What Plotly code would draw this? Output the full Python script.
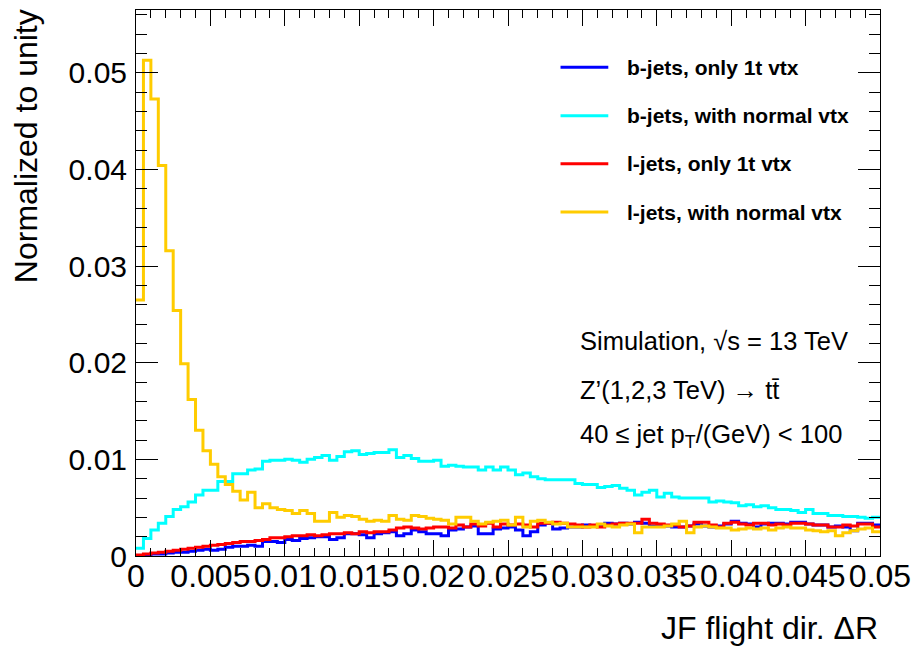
import numpy as np
import plotly.graph_objects as go

# ---- data (normalized histograms, 100 bins over 0..0.05) ----
x_min, x_max, n_bins = 0.0, 0.05, 100

b_1t = [0.00005, 0.0001, 0.0002, 0.0002, 0.0003, 0.0004, 0.0004, 0.0005, 0.0006, 0.0007,
        0.0006, 0.0007, 0.0009, 0.0010, 0.0010, 0.0011, 0.0010, 0.0015, 0.0015, 0.0014,
        0.0017, 0.0016, 0.0018, 0.0019, 0.0020, 0.0020, 0.0017, 0.0019, 0.0023, 0.0023,
        0.0022, 0.0019, 0.0023, 0.0024, 0.0025, 0.0021, 0.0023, 0.0027, 0.0025, 0.0023,
        0.0023, 0.0021, 0.0027, 0.0028, 0.0030, 0.0031, 0.0023, 0.0023, 0.0028, 0.0029,
        0.0030, 0.0027, 0.0021, 0.0025, 0.0032, 0.0034, 0.0028, 0.0029, 0.0030, 0.0030,
        0.0032, 0.0031, 0.0032, 0.0034, 0.0033, 0.0034, 0.0033, 0.0035, 0.0034, 0.0031,
        0.0031, 0.0031, 0.0030, 0.0030, 0.0031, 0.0033, 0.0031, 0.0030, 0.0031, 0.0033,
        0.0036, 0.0034, 0.0033, 0.0030, 0.0033, 0.0034, 0.0034, 0.0033, 0.0035, 0.0035,
        0.0033, 0.0032, 0.0032, 0.0030, 0.0031, 0.0030, 0.0026, 0.0034, 0.0034, 0.0032]

b_norm = [0.0008, 0.0018, 0.0027, 0.0034, 0.0041, 0.0048, 0.0051, 0.0056, 0.0063, 0.0068,
          0.0068, 0.0077, 0.0077, 0.0085, 0.0085, 0.0089, 0.0090, 0.0098, 0.0099, 0.0099,
          0.0100, 0.0099, 0.0097, 0.0100, 0.0102, 0.0104, 0.0099, 0.0103, 0.0108, 0.0109,
          0.0105, 0.0106, 0.0107, 0.0107, 0.0110, 0.0102, 0.0104, 0.0101, 0.0098, 0.0098,
          0.0099, 0.0093, 0.0094, 0.0093, 0.0092, 0.0092, 0.0089, 0.0092, 0.0089, 0.0092,
          0.0089, 0.0084, 0.0086, 0.0082, 0.0080, 0.0079, 0.0079, 0.0079, 0.0079, 0.0075,
          0.0074, 0.0074, 0.0071, 0.0072, 0.0073, 0.0070, 0.0068, 0.0063, 0.0066, 0.0068,
          0.0061, 0.0065, 0.0061, 0.0060, 0.0060, 0.0060, 0.0060, 0.0056, 0.0057, 0.0056,
          0.0055, 0.0052, 0.0053, 0.0051, 0.0052, 0.0050, 0.0048, 0.0048, 0.0047, 0.0045,
          0.0048, 0.0044, 0.0044, 0.0042, 0.0042, 0.0041, 0.0041, 0.0040, 0.0039, 0.0040]

l_1t = [0.0001, 0.0002, 0.0003, 0.0004, 0.0005, 0.0006, 0.0007, 0.0008, 0.0009, 0.0010,
        0.0011, 0.0012, 0.0013, 0.0014, 0.0015, 0.0015, 0.0016, 0.0017, 0.0019, 0.0019,
        0.0020, 0.0021, 0.0021, 0.0022, 0.0021, 0.0022, 0.0023, 0.0023, 0.0024, 0.0023,
        0.0025, 0.0024, 0.0025, 0.0025, 0.0027, 0.0029, 0.0030, 0.0029, 0.0028, 0.0029,
        0.0030, 0.0030, 0.0029, 0.0032, 0.0030, 0.0033, 0.0031, 0.0034, 0.0030, 0.0033,
        0.0032, 0.0033, 0.0032, 0.0030, 0.0034, 0.0034, 0.0035, 0.0034, 0.0033, 0.0032,
        0.0030, 0.0032, 0.0030, 0.0032, 0.0033, 0.0034, 0.0034, 0.0034, 0.0038, 0.0034,
        0.0033, 0.0032, 0.0032, 0.0030, 0.0031, 0.0035, 0.0035, 0.0032, 0.0030, 0.0034,
        0.0035, 0.0033, 0.0032, 0.0034, 0.0034, 0.0032, 0.0033, 0.0032, 0.0034, 0.0034,
        0.0033, 0.0032, 0.0032, 0.0030, 0.0030, 0.0032, 0.0031, 0.0033, 0.0033, 0.0030]

l_norm = [0.0265, 0.0513, 0.0473, 0.0404, 0.0316, 0.0254, 0.0199, 0.0162, 0.0130, 0.0109,
          0.0095, 0.0082, 0.0074, 0.0067, 0.0058, 0.0066, 0.0050, 0.0054, 0.0050, 0.0048,
          0.0047, 0.0044, 0.0047, 0.0044, 0.0036, 0.0036, 0.0045, 0.0040, 0.0042, 0.0041,
          0.0038, 0.0036, 0.0037, 0.0036, 0.0042, 0.0038, 0.0037, 0.0042, 0.0041, 0.0039,
          0.0038, 0.0037, 0.0033, 0.0040, 0.0040, 0.0036, 0.0033, 0.0035, 0.0036, 0.0037,
          0.0032, 0.0040, 0.0030, 0.0036, 0.0037, 0.0035, 0.0033, 0.0034, 0.0030, 0.0030,
          0.0030, 0.0030, 0.0033, 0.0031, 0.0030, 0.0032, 0.0033, 0.0024, 0.0030, 0.0030,
          0.0030, 0.0031, 0.0033, 0.0036, 0.0024, 0.0030, 0.0031, 0.0030, 0.0029, 0.0029,
          0.0027, 0.0028, 0.0029, 0.0028, 0.0029, 0.0027, 0.0029, 0.0030, 0.0029, 0.0029,
          0.0027, 0.0026, 0.0025, 0.0026, 0.0021, 0.0024, 0.0026, 0.0028, 0.0029, 0.0025]

series_names = ["b-jets, only 1t vtx", "b-jets, with normal vtx",
                "l-jets, only 1t vtx", "l-jets, with normal vtx"]
series_values = [b_1t, b_norm, l_1t, l_norm]
series_colors = ["#0000ff", "#00ffff", "#ff0000", "#ffcc00"]

x_tickvals = [0, 0.005, 0.01, 0.015, 0.02, 0.025, 0.03, 0.035, 0.04, 0.045, 0.05]
x_ticktext = ["0", "0.005", "0.01", "0.015", "0.02", "0.025", "0.03", "0.035", "0.04", "0.045", "0.05"]
y_tickvals = [0, 0.01, 0.02, 0.03, 0.04, 0.05]
y_ticktext = ["0", "0.01", "0.02", "0.03", "0.04", "0.05"]
y_max = 0.0565

FONT = "Liberation Sans, Arial, Helvetica, sans-serif"

edges = np.linspace(x_min, x_max, n_bins + 1)

fig = go.Figure()
for name, vals, col in zip(series_names, series_values, series_colors):
    fig.add_trace(go.Scatter(
        x=edges, y=list(vals) + [vals[-1]], mode="lines", name=name,
        line=dict(color=col, width=3, shape="hv"), showlegend=False,
    ))

axis_common = dict(showline=True, linecolor="black", linewidth=1, mirror="allticks",
                   ticks="inside", tickcolor="black", tickwidth=1,
                   showgrid=False, zeroline=False)

fig.update_xaxes(range=[x_min, x_max], tickvals=x_tickvals, ticktext=x_ticktext,
                 ticklen=16, ticklabelstandoff=-8,
                 tickfont=dict(family=FONT, size=32, color="black"),
                 minor=dict(dtick=0.001, ticklen=8, ticks="inside", tickcolor="black", tickwidth=1),
                 **axis_common)
fig.update_yaxes(range=[0, y_max], tickvals=y_tickvals, ticktext=y_ticktext,
                 ticklen=22, ticklabelstandoff=2,
                 tickfont=dict(family=FONT, size=30, color="black"),
                 minor=dict(dtick=0.002, ticklen=11, ticks="inside", tickcolor="black", tickwidth=1),
                 **axis_common)

annotations = [
    dict(text="JF flight dir. ΔR", xref="paper", yref="paper", x=1.0, y=-0.132,
         xanchor="right", yanchor="middle", showarrow=False,
         font=dict(family=FONT, size=32, color="black")),
    dict(text="Normalized to unity", xref="paper", yref="paper", x=-0.148, y=1.005,
         xanchor="center", yanchor="top", textangle=-90, showarrow=False,
         font=dict(family=FONT, size=32, color="black")),
]

# legend (drawn in the ROOT style)
leg_rows_y = [0.8950, 0.8065, 0.7185, 0.6300]
shapes = []
for name, col, ly in zip(series_names, series_colors, leg_rows_y):
    shapes.append(dict(type="line", xref="paper", yref="paper", x0=0.5706, x1=0.6348,
                       y0=ly, y1=ly, line=dict(color=col, width=3)))
    annotations.append(dict(text="<b>%s</b>" % name, xref="paper", yref="paper",
                            x=0.6566, y=ly, xanchor="left", yanchor="middle", showarrow=False,
                            font=dict(family=FONT, size=21, color="black")))

info_lines = ["Simulation, √s = 13 TeV", "Z’(1,2,3 TeV) → tt\u0304",
              "40 ≤ jet p<sub>T</sub>/(GeV) < 100"]
info_y = [0.3946, 0.304, 0.219]
for t, iy in zip(info_lines, info_y):
    annotations.append(dict(text=t, xref="paper", yref="paper", x=0.594, y=iy,
                            xanchor="left", yanchor="middle", showarrow=False,
                            font=dict(family=FONT, size=25.5, color="black")))

fig.update_layout(
    width=920, height=647,
    margin=dict(l=136, r=36, t=9, b=91),
    paper_bgcolor="white", plot_bgcolor="white",
    annotations=annotations, shapes=shapes,
    showlegend=False,
)

fig.write_html("out.html")
